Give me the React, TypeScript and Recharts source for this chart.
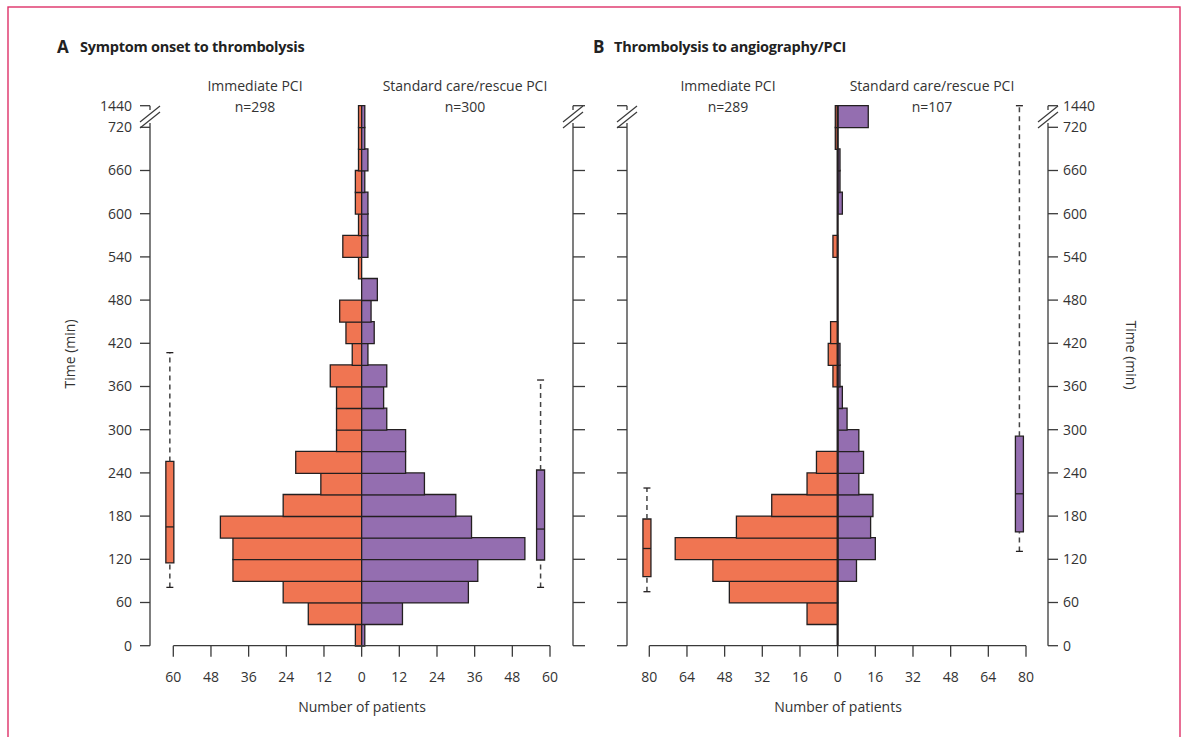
import { ComposedChart, Bar, XAxis, YAxis, ReferenceArea, ReferenceLine } from 'recharts'

// 30-min bins; the last one is 720-1440 min (drawn squeezed above the axis break)
const binStarts = [0, 30, 60, 90, 120, 150, 180, 210, 240, 270, 300, 330, 360, 390, 420, 450, 480, 510, 540, 570, 600, 630, 660, 690, 720]
const binEnds = [...binStarts.slice(1), 1440]

// A: symptom onset to thrombolysis
const onsetImmediate = [2, 17, 25, 41, 41, 45, 25, 13, 21, 8, 8, 8, 10, 3, 5, 7, 0, 1, 6, 1, 2, 2, 1, 1, 1]
const onsetStandard = [1, 13, 34, 37, 52, 35, 30, 20, 14, 14, 8, 7, 8, 2, 4, 3, 5, 0, 2, 2, 2, 1, 2, 1, 1]

// B: thrombolysis to angiography/PCI
const angioImmediate = [0, 13, 46, 53, 69, 43, 28, 13, 9, 0, 0, 0, 2, 4, 3, 0, 0, 0, 2, 0, 0, 0, 0, 1, 1]
const angioStandard = [0, 0, 0, 8, 16, 14, 15, 9, 11, 9, 4, 2, 1, 1, 0, 0, 0, 0, 0, 0, 2, 1, 1, 0, 13]

// box plots (minutes): whisker low, q1, median, q3, whisker high
const onsetImmediateBox = [81, 115, 165, 256, 407]
const onsetStandardBox = [81, 119, 162, 244, 369]
const angioImmediateBox = [75, 96, 135, 176, 219]
const angioStandardBox = [131, 158, 211, 291, 1440]

const timeTicks = [0, 60, 120, 180, 240, 300, 360, 420, 480, 540, 600, 660, 720, 1440]
const patientTicksA = [-60, -48, -36, -24, -12, 0, 12, 24, 36, 48, 60]
const patientTicksB = [-80, -64, -48, -32, -16, 0, 16, 32, 48, 64, 80]

const ORANGE = '#F07552'
const PURPLE = '#946EB0'
const EDGE = '#231F20'
const AXIS = '#3a3a3a'
const TEXT = '#333333'

// broken axis: 720..1440 is squeezed into one 30-min step
const toAxis = (m: number) => (m <= 720 ? m : 720 + ((m - 720) / 720) * 30)
const axisTicks = timeTicks.map(toAxis)
const tickLabel = (v: number) => String(timeTicks[axisTicks.indexOf(v)] ?? v)

function buildRows(left: number[], right: number[]) {
  return binStarts.map((s, i) => ({
    t: (toAxis(s) + toAxis(binEnds[i])) / 2,
    left: left[i] ? -left[i] : null,
    right: right[i] ? right[i] : null,
  }))
}

const rowsA = buildRows(onsetImmediate, onsetStandard)
const rowsB = buildRows(angioImmediate, angioStandard)

function boxPlot(key: string, stats: number[], x: number, halfW: number, capW: number, color: string) {
  const [lo, q1, med, q3, hi] = stats.map(toAxis)
  const dash = { stroke: '#444', strokeWidth: 1.5, strokeDasharray: '5 4' }
  const solid = { stroke: EDGE, strokeWidth: 1.3 }
  return [
    <ReferenceLine key={key + 'wl'} yAxisId="left" ifOverflow="visible" segment={[{ x, y: lo }, { x, y: q1 }]} {...dash} />,
    <ReferenceLine key={key + 'wh'} yAxisId="left" ifOverflow="visible" segment={[{ x, y: q3 }, { x, y: hi }]} {...dash} />,
    <ReferenceLine key={key + 'cl'} yAxisId="left" ifOverflow="visible" segment={[{ x: x - capW, y: lo }, { x: x + capW, y: lo }]} {...solid} />,
    <ReferenceLine key={key + 'ch'} yAxisId="left" ifOverflow="visible" segment={[{ x: x - capW, y: hi }, { x: x + capW, y: hi }]} {...solid} />,
    <ReferenceArea key={key + 'b'} yAxisId="left" ifOverflow="visible" x1={x - halfW} x2={x + halfW} y1={q1} y2={q3} fill={color} fillOpacity={1} stroke={EDGE} strokeWidth={1.3} />,
    <ReferenceLine key={key + 'm'} yAxisId="left" ifOverflow="visible" segment={[{ x: x - halfW, y: med }, { x: x + halfW, y: med }]} {...solid} />,
  ]
}

const tickStyle = { fill: TEXT, fontSize: 14, fontFamily: 'Open Sans' }
const lineStyle = { stroke: AXIS, strokeWidth: 1.3 }
// tick marks only, no label
const noLabel = () => <g />

function Panel(props: {
  rows: any[]
  ticks: number[]
  max: number
  pxPerUnit: number
  padL: number
  padR: number
  leftW: number
  rightW: number
  labelsRight: boolean
  zeroLine: boolean
  boxes: { stats: number[]; x: number; color: string }[]
  width: number
}) {
  const { rows, ticks, max, pxPerUnit, padL, padR, leftW, rightW, labelsRight, zeroLine, boxes, width } = props
  const halfW = 4 / pxPerUnit
  const capW = 3.5 / pxPerUnit
  return (
    <ComposedChart
      width={width}
      height={737}
      data={rows}
      layout="vertical"
      stackOffset="sign"
      barCategoryGap={0}
      barGap={0}
      margin={{ top: 105.7, right: 0, bottom: 51.3, left: 0 }}
    >
      <XAxis
        type="number"
        domain={[-max, max]}
        ticks={ticks}
        interval={0}
        tickFormatter={(v: number) => String(Math.abs(v))}
        padding={{ left: padL, right: padR }}
        axisLine={false}
        tickLine={lineStyle}
        tickSize={11}
        tickMargin={15}
        height={40}
        tick={tickStyle}
      />
      <YAxis
        yAxisId="left"
        type="number"
        dataKey="t"
        domain={[0, 750]}
        reversed
        ticks={axisTicks}
        interval={0}
        tickFormatter={tickLabel}
        width={leftW}
        tickSize={10}
        tickMargin={8}
        axisLine={lineStyle}
        tickLine={lineStyle}
        tick={labelsRight ? noLabel : tickStyle}
      />
      <YAxis
        yAxisId="right"
        orientation="right"
        type="number"
        dataKey="t"
        domain={[0, 750]}
        reversed
        ticks={axisTicks}
        interval={0}
        tickFormatter={tickLabel}
        width={rightW}
        tickSize={labelsRight ? 10 : 12}
        tickMargin={5}
        axisLine={lineStyle}
        tickLine={lineStyle}
        tick={labelsRight ? tickStyle : noLabel}
      />
      <Bar yAxisId="left" dataKey="left" stackId="s" fill={ORANGE} stroke={EDGE} strokeWidth={1.3} isAnimationActive={false} />
      <Bar yAxisId="left" dataKey="right" stackId="s" fill={PURPLE} stroke={EDGE} strokeWidth={1.3} isAnimationActive={false} />
      <ReferenceLine yAxisId="left" ifOverflow="visible" segment={[{ x: -max, y: 0 }, { x: max, y: 0 }]} {...lineStyle} />
      {zeroLine && <ReferenceLine yAxisId="left" x={0} stroke={EDGE} strokeWidth={2.2} />}
      {boxes.flatMap((b, i) => boxPlot('box' + i, b.stats, b.x, halfW, capW, b.color))}
    </ComposedChart>
  )
}

function AxisBreak({ x }: { x: number }) {
  return (
    <g stroke={AXIS} strokeWidth={1.3}>
      <rect x={x - 4} y={110} width={8} height={13} fill="#fff" stroke="none" />
      <line x1={x - 10} y1={122} x2={x + 10} y2={106} />
      <line x1={x - 10} y1={128} x2={x + 10} y2={112} />
    </g>
  )
}

export default function App() {
  return (
    <div style={{ position: 'relative', width: 1182, height: 737, background: '#fff', fontFamily: 'Open Sans', overflow: 'hidden' }}>
      <style>{'body{margin:0}'}</style>
      <div style={{ position: 'absolute', left: 0, top: 0 }}>
        <Panel
          rows={rowsA}
          ticks={patientTicksA}
          max={60}
          pxPerUnit={3.139}
          padL={23.3}
          padR={23}
          leftW={150}
          rightW={27}
          labelsRight={false}
          zeroLine={false}
          width={600}
          boxes={[
            { stats: onsetImmediateBox, x: -61.1, color: ORANGE },
            { stats: onsetStandardBox, x: 57.0, color: PURPLE },
          ]}
        />
      </div>
      <div style={{ position: 'absolute', left: 600, top: 0 }}>
        <Panel
          rows={rowsB}
          ticks={patientTicksB}
          max={80}
          pxPerUnit={2.354}
          padL={22.3}
          padR={22}
          leftW={27}
          rightW={134}
          labelsRight={true}
          zeroLine={true}
          width={582}
          boxes={[
            { stats: angioImmediateBox, x: -81, color: ORANGE },
            { stats: angioStandardBox, x: 77.2, color: PURPLE },
          ]}
        />
      </div>
      <svg width={1182} height={737} style={{ position: 'absolute', left: 0, top: 0, pointerEvents: 'none' }}>
        <rect x={8} y={7} width={1172} height={760} fill="none" stroke="#DE3168" strokeWidth={1.4} />
        <g fill="#222" fontWeight={700}>
          <text x={57} y={53} fontSize={17}>A</text>
          <text x={80} y={52} fontSize={14.5} letterSpacing={-0.25}>Symptom onset to thrombolysis</text>
          <text x={593} y={53} fontSize={17}>B</text>
          <text x={614} y={52} fontSize={14.5} letterSpacing={-0.25}>Thrombolysis to angiography/PCI</text>
        </g>
        <g fill={TEXT} fontSize={14} textAnchor="middle">
          <text x={255} y={91}>Immediate PCI</text>
          <text x={255} y={112}>n=298</text>
          <text x={465} y={91}>Standard care/rescue PCI</text>
          <text x={465} y={112}>n=300</text>
          <text x={728} y={91}>Immediate PCI</text>
          <text x={728} y={112}>n=289</text>
          <text x={932} y={91}>Standard care/rescue PCI</text>
          <text x={932} y={112}>n=107</text>
          <text x={362} y={712}>Number of patients</text>
          <text x={838} y={712}>Number of patients</text>
          <text transform="translate(75,354) rotate(-90)">Time (min)</text>
          <text transform="translate(1126,355) rotate(90)">Time (min)</text>
        </g>
        <AxisBreak x={150} />
        <AxisBreak x={573} />
        <AxisBreak x={627} />
        <AxisBreak x={1048} />
      </svg>
    </div>
  )
}
